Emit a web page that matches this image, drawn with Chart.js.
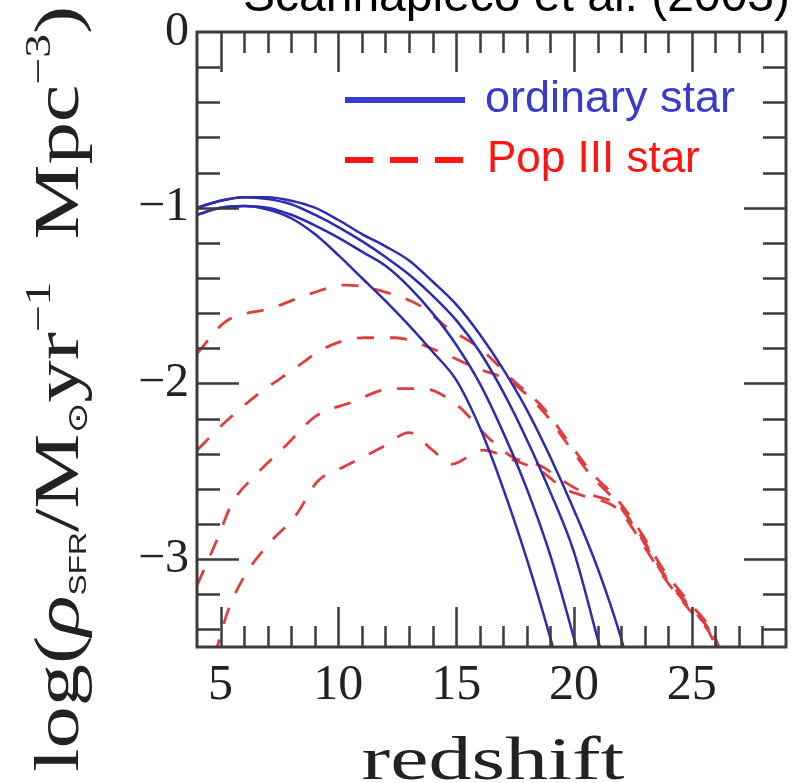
<!DOCTYPE html>
<html>
<head>
<meta charset="utf-8">
<script src="https://cdn.jsdelivr.net/npm/chart.js@4.4.1/dist/chart.umd.min.js"></script>
<style>
  html, body { margin: 0; padding: 0; background: #fff; }
  #wrap { width: 794px; height: 783px; }
</style>
</head>
<body>
<div id="wrap"><canvas id="sfr" width="794" height="783"></canvas></div>
<script>
// ── Axis ticks ─────────────────────────────────────────────────────────────
const redshiftTicks = [5, 10, 15, 20, 25];
const logRhoTicks   = [-3, -2, -1, 0];

// ── Ordinary star SFR curves (redshift, log rho) ───────────────────────────
const ordinary1 = [[4,-1.0],[5,-0.96],[6,-0.94],[7,-0.94],[8,-0.96],[9,-1.0],[10,-1.07],[11,-1.15],[12,-1.22],[13,-1.3],[14,-1.42],[15,-1.55],[16,-1.72],[17,-1.92],[18,-2.15],[19,-2.42],[20,-2.72],[21,-3.05],[22,-3.45],[22.2,-3.55]];
const ordinary2 = [[4,-1.0],[5,-0.96],[6,-0.94],[7,-0.95],[8,-0.98],[9,-1.04],[10,-1.11],[11,-1.19],[12,-1.28],[13,-1.38],[14,-1.5],[15,-1.64],[16,-1.82],[17,-2.05],[18,-2.32],[19,-2.62],[20,-2.96],[21,-3.45],[21.2,-3.55]];
const ordinary3 = [[4,-1.04],[5,-1.0],[6,-0.99],[7,-1.0],[8,-1.04],[9,-1.1],[10,-1.17],[11,-1.25],[12,-1.33],[13,-1.45],[14,-1.6],[15,-1.78],[16,-2.0],[17,-2.28],[18,-2.6],[19,-2.98],[20,-3.45],[20.2,-3.55]];
const ordinary4 = [[4,-1.04],[5,-1.0],[6,-0.99],[7,-1.01],[8,-1.06],[9,-1.15],[10,-1.27],[11,-1.4],[12,-1.53],[13,-1.67],[14,-1.82],[15,-1.98],[16,-2.25],[17,-2.6],[18,-3.0],[19,-3.45],[19.2,-3.55]];

// ── Pop III star SFR curves ────────────────────────────────────────────────
const popIII1 = [[4,-1.83],[5.2,-1.65],[7.2,-1.57],[8.8,-1.49],[10.3,-1.44],[12,-1.48],[13.5,-1.56],[14.6,-1.68],[16,-1.8],[17.4,-1.98],[18.7,-2.14],[19.7,-2.32],[20.7,-2.5],[21.9,-2.67],[22.85,-2.85],[23.8,-3.06],[24.85,-3.24],[25.9,-3.42],[26.3,-3.55]];
const popIII2 = [[4,-2.38],[5.2,-2.22],[6.6,-2.06],[8,-1.93],[9.4,-1.8],[11.1,-1.74],[12.4,-1.74],[14.3,-1.82],[15.8,-1.91],[17.3,-1.99],[18.7,-2.16],[19.7,-2.34],[20.7,-2.52],[21.9,-2.69],[22.85,-2.87],[23.8,-3.08],[24.85,-3.26],[25.9,-3.44],[26.2,-3.55]];
const popIII3 = [[4,-3.15],[4.85,-2.89],[5.5,-2.68],[6.5,-2.52],[7.8,-2.35],[9,-2.19],[10.5,-2.11],[12.3,-2.03],[13.6,-2.03],[15.1,-2.13],[16.3,-2.3],[17.4,-2.42],[18.6,-2.47],[19.6,-2.56],[20.4,-2.62],[21.9,-2.7],[22.85,-2.88],[23.8,-3.09],[24.85,-3.27],[25.9,-3.45],[26.1,-3.55]];
const popIII4 = [[4.75,-3.55],[5.3,-3.3],[6,-3.1],[7,-2.92],[8.2,-2.75],[9.1,-2.56],[10.3,-2.47],[11.9,-2.36],[13,-2.28],[14,-2.38],[14.8,-2.46],[16.1,-2.38],[17.5,-2.44],[18.6,-2.5],[19.6,-2.6],[20.4,-2.64],[21.9,-2.72],[22.85,-2.9],[23.8,-3.1],[24.85,-3.28],[25.9,-3.46],[26.1,-3.55]];

const legendLabels = ["ordinary star", "Pop III star"];

// ── Colours ────────────────────────────────────────────────────────────────
const BLUE = "#2c2cb0", BLUE_TXT = "#3a3acc";
const RED  = "#e03e3e", RED_TXT  = "#ff1414";
const INK  = "#222";

const toXY = pts => pts.map(([x, y]) => ({ x, y }));

function ordinarySet(pts) {
  return { data: toXY(pts), borderColor: BLUE, borderWidth: 2.5, pointRadius: 0,
           fill: false, cubicInterpolationMode: "monotone" };
}
function popSet(pts) {
  return { data: toXY(pts), borderColor: RED, borderWidth: 2.8, borderDash: [17, 16],
           pointRadius: 0, fill: false, cubicInterpolationMode: "monotone" };
}

// ── Inward ticks on all four sides + frame ─────────────────────────────────
const frameTicks = {
  id: "frameTicks",
  afterDatasetsDraw(chart) {
    const { ctx, chartArea: a, scales: { x, y } } = chart;
    ctx.save();
    ctx.strokeStyle = "#3c3c3c";
    ctx.lineWidth = 2.5;
    ctx.beginPath();
    for (let v = 5; v <= 28; v++) {
      const px = Math.round(x.getPixelForValue(v)) + 0.5;
      const len = v % 5 === 0 ? 40 : 21;
      ctx.moveTo(px, a.bottom); ctx.lineTo(px, a.bottom - len);
      ctx.moveTo(px, a.top);    ctx.lineTo(px, a.top + len);
    }
    for (let k = 1; k <= 17; k++) {
      const py = Math.round(y.getPixelForValue(-k * 0.2)) + 0.5;
      const len = k % 5 === 0 ? 42 : 23;
      ctx.moveTo(a.left, py);  ctx.lineTo(a.left + len, py);
      ctx.moveTo(a.right, py); ctx.lineTo(a.right - len, py);
    }
    ctx.stroke();
    ctx.lineWidth = 3;
    ctx.strokeRect(a.left, a.top, a.right - a.left, a.bottom - a.top);
    ctx.restore();
  }
};

// ── Titles, legend ─────────────────────────────────────────────────────────
const annotations = {
  id: "annotations",
  afterDraw(chart) {
    const { ctx } = chart;
    ctx.save();

    // clipped reference line at the very top
    ctx.fillStyle = "#000";
    ctx.font = '48px "Liberation Sans"';
    ctx.textAlign = "right";
    ctx.textBaseline = "alphabetic";
    ctx.fillText("Scannapieco et al. (2003)", 790, 11);

    // x title
    ctx.font = '62px "Liberation Serif"';
    ctx.fillStyle = INK;
    const xt = "redshift";
    const xw = ctx.measureText(xt).width;
    ctx.save();
    ctx.translate(493, 779);
    ctx.scale(263 / xw, 1);
    ctx.textAlign = "center";
    ctx.fillText(xt, 0, 0);
    ctx.restore();

    // y title: log(rho_SFR / M_sun yr^-1 Mpc^-3)
    const big = '64px "Liberation Serif"';
    const pieces = [
      { t: "log(", f: big, dy: 0 },
      { t: "ρ", f: 'italic 64px "Liberation Serif"', dy: 0 },
      { t: "SFR", f: '24px "Liberation Sans"', dy: 8 },
      { t: "/M", f: big, dy: 0 },
      { t: "⊙", f: '28px "DejaVu Sans"', dy: 9 },
      { t: "yr", f: big, dy: 0 },
      { t: "−1", f: '36px "Liberation Serif"', dy: -28 },
      { t: "  Mpc", f: big, dy: 0 },
      { t: "−3", f: '36px "Liberation Serif"', dy: -28 },
      { t: ")", f: big, dy: 0 }
    ];
    let total = 0;
    pieces.forEach(p => { ctx.font = p.f; p.w = ctx.measureText(p.t).width; total += p.w; });
    ctx.save();
    ctx.translate(78, 772);
    ctx.rotate(-Math.PI / 2);
    ctx.scale(766 / total, 1);
    ctx.textAlign = "left";
    let cx = 0;
    pieces.forEach(p => { ctx.font = p.f; ctx.fillText(p.t, cx, p.dy); cx += p.w; });
    ctx.restore();

    // legend
    ctx.lineCap = "butt";
    ctx.lineWidth = 6;
    ctx.strokeStyle = BLUE_TXT;
    ctx.beginPath(); ctx.moveTo(345, 100); ctx.lineTo(465, 100); ctx.stroke();
    ctx.strokeStyle = RED_TXT;
    ctx.setLineDash([28, 17]);
    ctx.beginPath(); ctx.moveTo(345, 160); ctx.lineTo(465, 160); ctx.stroke();
    ctx.setLineDash([]);
    ctx.font = '45px "Liberation Sans"';
    ctx.textAlign = "left";
    ctx.textBaseline = "middle";
    ctx.fillStyle = BLUE_TXT;
    ctx.fillText(legendLabels[0], 485, 100);
    ctx.fillStyle = RED_TXT;
    ctx.font = '44px "Liberation Sans"';
    ctx.fillText(legendLabels[1], 487, 160);
    ctx.restore();
  }
};

const tickFont = { family: '"Liberation Serif"', size: 50, lineHeight: 1 };

new Chart(document.getElementById("sfr"), {
  type: "line",
  data: {
    datasets: [
      ordinarySet(ordinary1), ordinarySet(ordinary2), ordinarySet(ordinary3), ordinarySet(ordinary4),
      popSet(popIII1), popSet(popIII2), popSet(popIII3), popSet(popIII4)
    ]
  },
  options: {
    responsive: false,
    animation: false,
    devicePixelRatio: 1,
    layout: { padding: { top: 27, right: 8, left: 0, bottom: 0 } },
    plugins: { legend: { display: false }, tooltip: { enabled: false }, title: { display: false } },
    scales: {
      x: {
        type: "linear", min: 4, max: 29,
        grid: { display: false, drawTicks: false }, border: { display: false },
        ticks: { color: INK, font: tickFont, padding: 14, maxRotation: 0 },
        afterBuildTicks: s => { s.ticks = redshiftTicks.map(v => ({ value: v })); },
        afterFit: s => { s.height = 136; }
      },
      y: {
        type: "linear", min: -3.5, max: 0,
        grid: { display: false, drawTicks: false }, border: { display: false },
        ticks: { color: INK, font: { ...tickFont, size: 48 }, padding: 8,
                 callback: v => (v < 0 ? "−" + Math.abs(v) : String(v)) },
        afterBuildTicks: s => { s.ticks = logRhoTicks.map(v => ({ value: v })); },
        afterFit: s => { s.width = 197; }
      }
    }
  },
  plugins: [frameTicks, annotations]
});
</script>
</body>
</html>
